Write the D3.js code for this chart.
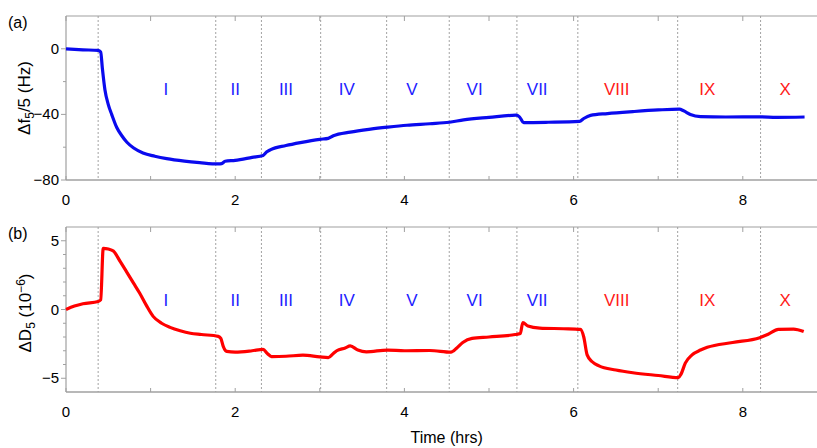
<!DOCTYPE html>
<html>
<head>
<meta charset="utf-8">
<script src="https://cdn.jsdelivr.net/npm/d3@7"></script>
<style>
  body { margin: 0; background: #fff; }
  text { font-family: "Liberation Sans", Arial, sans-serif; }
</style>
</head>
<body>
<div id="chart"></div>
<script>
// Panel (a): frequency shift, Hz
const timeA = [0, 0.2, 0.38, 0.41, 0.43, 0.46, 0.5, 0.54, 0.6, 0.66, 0.72, 0.8, 0.91, 1.05, 1.19, 1.4, 1.58, 1.8, 1.84, 1.88, 2.0, 2.2, 2.33, 2.37, 2.42, 2.6, 2.77, 3.0, 3.1, 3.16, 3.36, 3.6, 3.8, 4.03, 4.3, 4.53, 4.7, 5.0, 5.32, 5.36, 5.41, 5.7, 6.07, 6.12, 6.2, 6.4, 6.7, 7.0, 7.25, 7.3, 7.38, 7.5, 7.8, 8.2, 8.4, 8.73];
const freqShift = [0, -0.6, -1, -2, -12, -25, -34, -40, -48, -53, -57, -60.5, -63.5, -65.5, -67, -68.5, -69.4, -70.2, -70, -68.6, -68, -66.2, -65, -63, -61.5, -59, -57.2, -55.2, -54.6, -53, -50.8, -49, -47.8, -46.6, -45.7, -44.8, -43.3, -41.8, -40.5, -41.5, -45, -44.8, -44.3, -42.5, -40.6, -39.5, -38.3, -37.3, -36.8, -37.8, -40, -41.3, -41.6, -41.5, -41.8, -41.6];

// Panel (b): dissipation shift, 1e-6
const timeB = [0, 0.1, 0.2, 0.38, 0.41, 0.44, 0.5, 0.56, 0.64, 0.72, 0.8, 0.87, 0.95, 1.03, 1.13, 1.23, 1.35, 1.47, 1.6, 1.8, 1.83, 1.86, 1.9, 2.0, 2.2, 2.33, 2.38, 2.43, 2.6, 2.8, 3.0, 3.1, 3.16, 3.2, 3.3, 3.36, 3.45, 3.55, 3.8, 4.0, 4.3, 4.55, 4.62, 4.69, 4.8, 5.0, 5.31, 5.37, 5.4, 5.46, 5.6, 5.88, 6.08, 6.12, 6.16, 6.22, 6.3, 6.5, 6.7, 7.0, 7.24, 7.27, 7.32, 7.4, 7.5, 7.58, 7.88, 8.2, 8.3, 8.42, 8.6, 8.72];
const dissipation = [0, 0.25, 0.42, 0.58, 0.7, 4.45, 4.4, 4.25, 3.5, 2.7, 1.9, 1.2, 0.3, -0.5, -1.0, -1.3, -1.55, -1.73, -1.82, -1.95, -2.1, -2.7, -3.05, -3.1, -3.0, -2.9, -3.2, -3.42, -3.4, -3.32, -3.45, -3.5, -3.2, -3.0, -2.8, -2.65, -2.95, -3.08, -2.95, -3.0, -2.98, -3.1, -2.8, -2.4, -2.1, -2.0, -1.82, -1.75, -0.95, -1.2, -1.35, -1.4, -1.45, -2.0, -3.3, -3.8, -4.1, -4.4, -4.6, -4.8, -4.95, -4.7, -3.9, -3.3, -2.95, -2.75, -2.4, -2.05, -1.8, -1.45, -1.42, -1.6];

// Step boundaries (hrs) and region labels
const boundaries = [0.38, 1.77, 2.31, 3.01, 3.79, 4.53, 5.33, 6.05, 7.23, 8.21];
const regionNames = ['I', 'II', 'III', 'IV', 'V', 'VI', 'VII', 'VIII', 'IX', 'X'];
const regionPos = [1.18, 2.0, 2.6, 3.32, 4.09, 4.83, 5.57, 6.51, 7.58, 8.5];

const xTicks = [0, 2, 4, 6, 8];
const xMinor = [1, 3, 5, 7];

const W = 817, H = 448;
const svg = d3.select('#chart').append('svg')
    .attr('width', W)
    .attr('height', H);

const x = d3.scaleLinear().domain([0, 8.877]).range([66, 817]);

const panels = [
    {
        tag: '(a)', top: 16, bottom: 180, domain: [-80, 20],
        major: [-80, -40, 0], minor: [-60, -20],
        times: timeA, values: freqShift, color: '#0a0aee',
        labelY: 89, tagY: 28
    },
    {
        tag: '(b)', top: 227, bottom: 392, domain: [-6, 6],
        major: [-5, 0, 5], minor: [-4, -3, -2, -1, 1, 2, 3, 4],
        times: timeB, values: dissipation, color: '#ff0000',
        labelY: 300, tagY: 239
    }
];

const axisColor = '#a0a0a0';

panels.forEach((p) => {
    const y = d3.scaleLinear().domain(p.domain).range([p.bottom, p.top]);
    const g = svg.append('g');

    // dashed step boundaries
    g.selectAll('.step')
        .data(boundaries)
        .enter().append('line')
        .attr('x1', d => x(d)).attr('x2', d => x(d))
        .attr('y1', p.top).attr('y2', p.bottom)
        .attr('stroke', '#8a8a8a')
        .attr('stroke-width', 0.8)
        .attr('stroke-dasharray', '2,2');

    // frame
    g.append('line').attr('x1', x(0)).attr('x2', W).attr('y1', p.top).attr('y2', p.top)
        .attr('stroke', axisColor).attr('stroke-width', 1.2);
    g.append('line').attr('x1', x(0)).attr('x2', W).attr('y1', p.bottom).attr('y2', p.bottom)
        .attr('stroke', axisColor).attr('stroke-width', 1.5);
    g.append('line').attr('x1', x(0)).attr('x2', x(0)).attr('y1', p.top).attr('y2', p.bottom)
        .attr('stroke', axisColor).attr('stroke-width', 1.2);

    // x ticks (inside, top and bottom)
    const allX = xTicks.concat(xMinor);
    g.selectAll('.xtb').data(allX).enter().append('line')
        .attr('x1', d => x(d)).attr('x2', d => x(d))
        .attr('y1', p.bottom).attr('y2', p.bottom - 4)
        .attr('stroke', axisColor);
    g.selectAll('.xtt').data(allX).enter().append('line')
        .attr('x1', d => x(d)).attr('x2', d => x(d))
        .attr('y1', p.top).attr('y2', p.top + 5)
        .attr('stroke', axisColor);
    g.selectAll('.xl').data(xTicks).enter().append('text')
        .attr('x', d => x(d))
        .attr('y', p.bottom + 25)
        .attr('text-anchor', 'middle')
        .attr('font-size', 15)
        .text(d => d);

    // y ticks (outside)
    g.selectAll('.ytm').data(p.major).enter().append('line')
        .attr('x1', x(0) - 5).attr('x2', x(0))
        .attr('y1', d => y(d)).attr('y2', d => y(d))
        .attr('stroke', axisColor);
    g.selectAll('.ytn').data(p.minor).enter().append('line')
        .attr('x1', x(0) - 3).attr('x2', x(0))
        .attr('y1', d => y(d)).attr('y2', d => y(d))
        .attr('stroke', axisColor);
    g.selectAll('.yl').data(p.major).enter().append('text')
        .attr('x', x(0) - 7)
        .attr('y', d => y(d) + 5)
        .attr('text-anchor', 'end')
        .attr('font-size', 15)
        .text(d => d < 0 ? '\u2212' + Math.abs(d) : d);

    // region labels
    g.selectAll('.rl').data(regionNames).enter().append('text')
        .attr('x', (d, i) => x(regionPos[i]))
        .attr('y', p.labelY + 6)
        .attr('text-anchor', 'middle')
        .attr('font-size', 17)
        .style('font-family', '"Liberation Sans Narrow", "Liberation Sans", Arial, sans-serif')
        .attr('fill', (d, i) => i < 7 ? '#2222ff' : '#ff1a1a')
        .text(d => d);

    // data line
    const line = d3.line()
        .x((d, i) => x(p.times[i]))
        .y(d => y(d))
        .curve(d3.curveMonotoneX);
    g.append('path')
        .datum(p.values)
        .attr('d', line)
        .attr('fill', 'none')
        .attr('stroke', p.color)
        .attr('stroke-width', 3.2)
        .attr('stroke-linejoin', 'round');

    // panel tag
    svg.append('text')
        .attr('x', 8).attr('y', p.tagY)
        .attr('font-size', 16)
        .text(p.tag);
});

// y axis titles
const titleA = svg.append('text')
    .attr('transform', 'translate(30,98) rotate(-90)')
    .attr('text-anchor', 'middle')
    .attr('font-size', 17);
titleA.append('tspan').text('\u0394f');
titleA.append('tspan').attr('font-size', 12).attr('dy', 4).text('5');
titleA.append('tspan').attr('dy', -4).text('/5 (Hz)');

const titleB = svg.append('text')
    .attr('transform', 'translate(31,313) rotate(-90)')
    .attr('text-anchor', 'middle')
    .attr('font-size', 17);
titleB.append('tspan').text('\u0394D');
titleB.append('tspan').attr('font-size', 12).attr('dy', 4).text('5');
titleB.append('tspan').attr('dy', -4).text(' (10');
titleB.append('tspan').attr('font-size', 12).attr('dy', -6).text('\u22126');
titleB.append('tspan').attr('dy', 6).text(')');

// x axis title
svg.append('text')
    .attr('x', x(4.5))
    .attr('y', 443)
    .attr('text-anchor', 'middle')
    .attr('font-size', 16)
    .text('Time (hrs)');
</script>
</body>
</html>
